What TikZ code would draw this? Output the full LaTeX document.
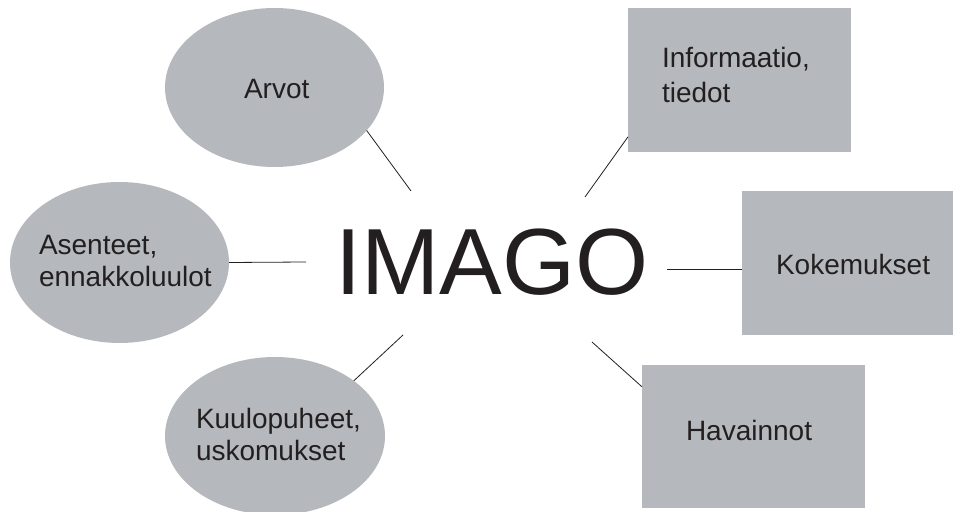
\documentclass[tikz,border=0pt]{standalone}
\usepackage{fontspec}
\setmainfont{Liberation Sans}
\usetikzlibrary{shapes.geometric}
\definecolor{boxgray}{RGB}{181,184,188}
\definecolor{ink}{RGB}{35,31,32}
\tikzset{
  blob/.style={ellipse, fill=boxgray, draw=none, inner sep=0pt, outer sep=0pt},
  card/.style={rectangle, fill=boxgray, draw=none, inner sep=0pt, outer sep=0pt, anchor=north west},
  caption/.style={inner sep=0pt, outer sep=0pt, anchor=base west, text=ink, align=left,
    text width=190bp, font=\fontsize{28bp}{32bp}\selectfont},
  link/.style={draw=ink, line width=0.8bp}
}
\begin{document}
\begin{tikzpicture}[x=1bp, y=-1bp]
  \useasboundingbox (0,0) rectangle (953,512);
  \begin{scope}
    \clip (0,0) rectangle (953,512);
    % rounded themes on the left
    \node[blob, minimum width=219bp, minimum height=159bp] (arvot) at (274.5,87.5) {};
    \node[blob, minimum width=219bp, minimum height=161bp] (asenteet) at (119.5,262.5) {};
    \node[blob, minimum width=220bp, minimum height=158bp] (kuulo) at (275,436) {};
    % rectangular themes on the right
    \node[card, minimum width=223bp, minimum height=144bp] (info) at (628,8) {};
    \node[card, minimum width=215bp, minimum height=144bp] (koke) at (742,191) {};
    \node[card, minimum width=223bp, minimum height=143bp] (havain) at (642,365) {};
  \end{scope}

  % labels
  \node[caption] (arvot-t) at (244,99) {Arvot};
  \node[caption] (asenteet-t) at (39,255) {Asenteet,\\ennakkoluulot};
  \node[caption] (kuulo-t) at (196,428) {Kuulopuheet,\\uskomukset};
  \node[caption, font=\fontsize{28bp}{35bp}\selectfont] (info-t) at (662,68) {Informaatio,\\tiedot};
  \node[caption] (koke-t) at (776,275) {Kokemukset};
  \node[caption] (havain-t) at (686,440) {Havainnot};

  % central word
  \node[inner sep=0pt, anchor=base, text=ink, font=\fontsize{94bp}{100bp}\selectfont] (imago) at (492,295) {IMAGO};

  % free ends of the spokes near the centre
  \coordinate (p1) at (411,191);
  \coordinate (p2) at (585,197);
  \coordinate (p3) at (306,262);
  \coordinate (p4) at (667,269);
  \coordinate (p5) at (403,335);
  \coordinate (p6) at (592,342);

  \draw[link] (arvot.-25) -- (p1);
  \draw[link] (info.207) -- (p2);
  \draw[link] (asenteet.east) -- (p3);
  \draw[link] (koke.west |- p4) -- (p4);
  \draw[link] (kuulo.35) -- (p5);
  \draw[link] (havain.156) -- (p6);
\end{tikzpicture}
\end{document}
